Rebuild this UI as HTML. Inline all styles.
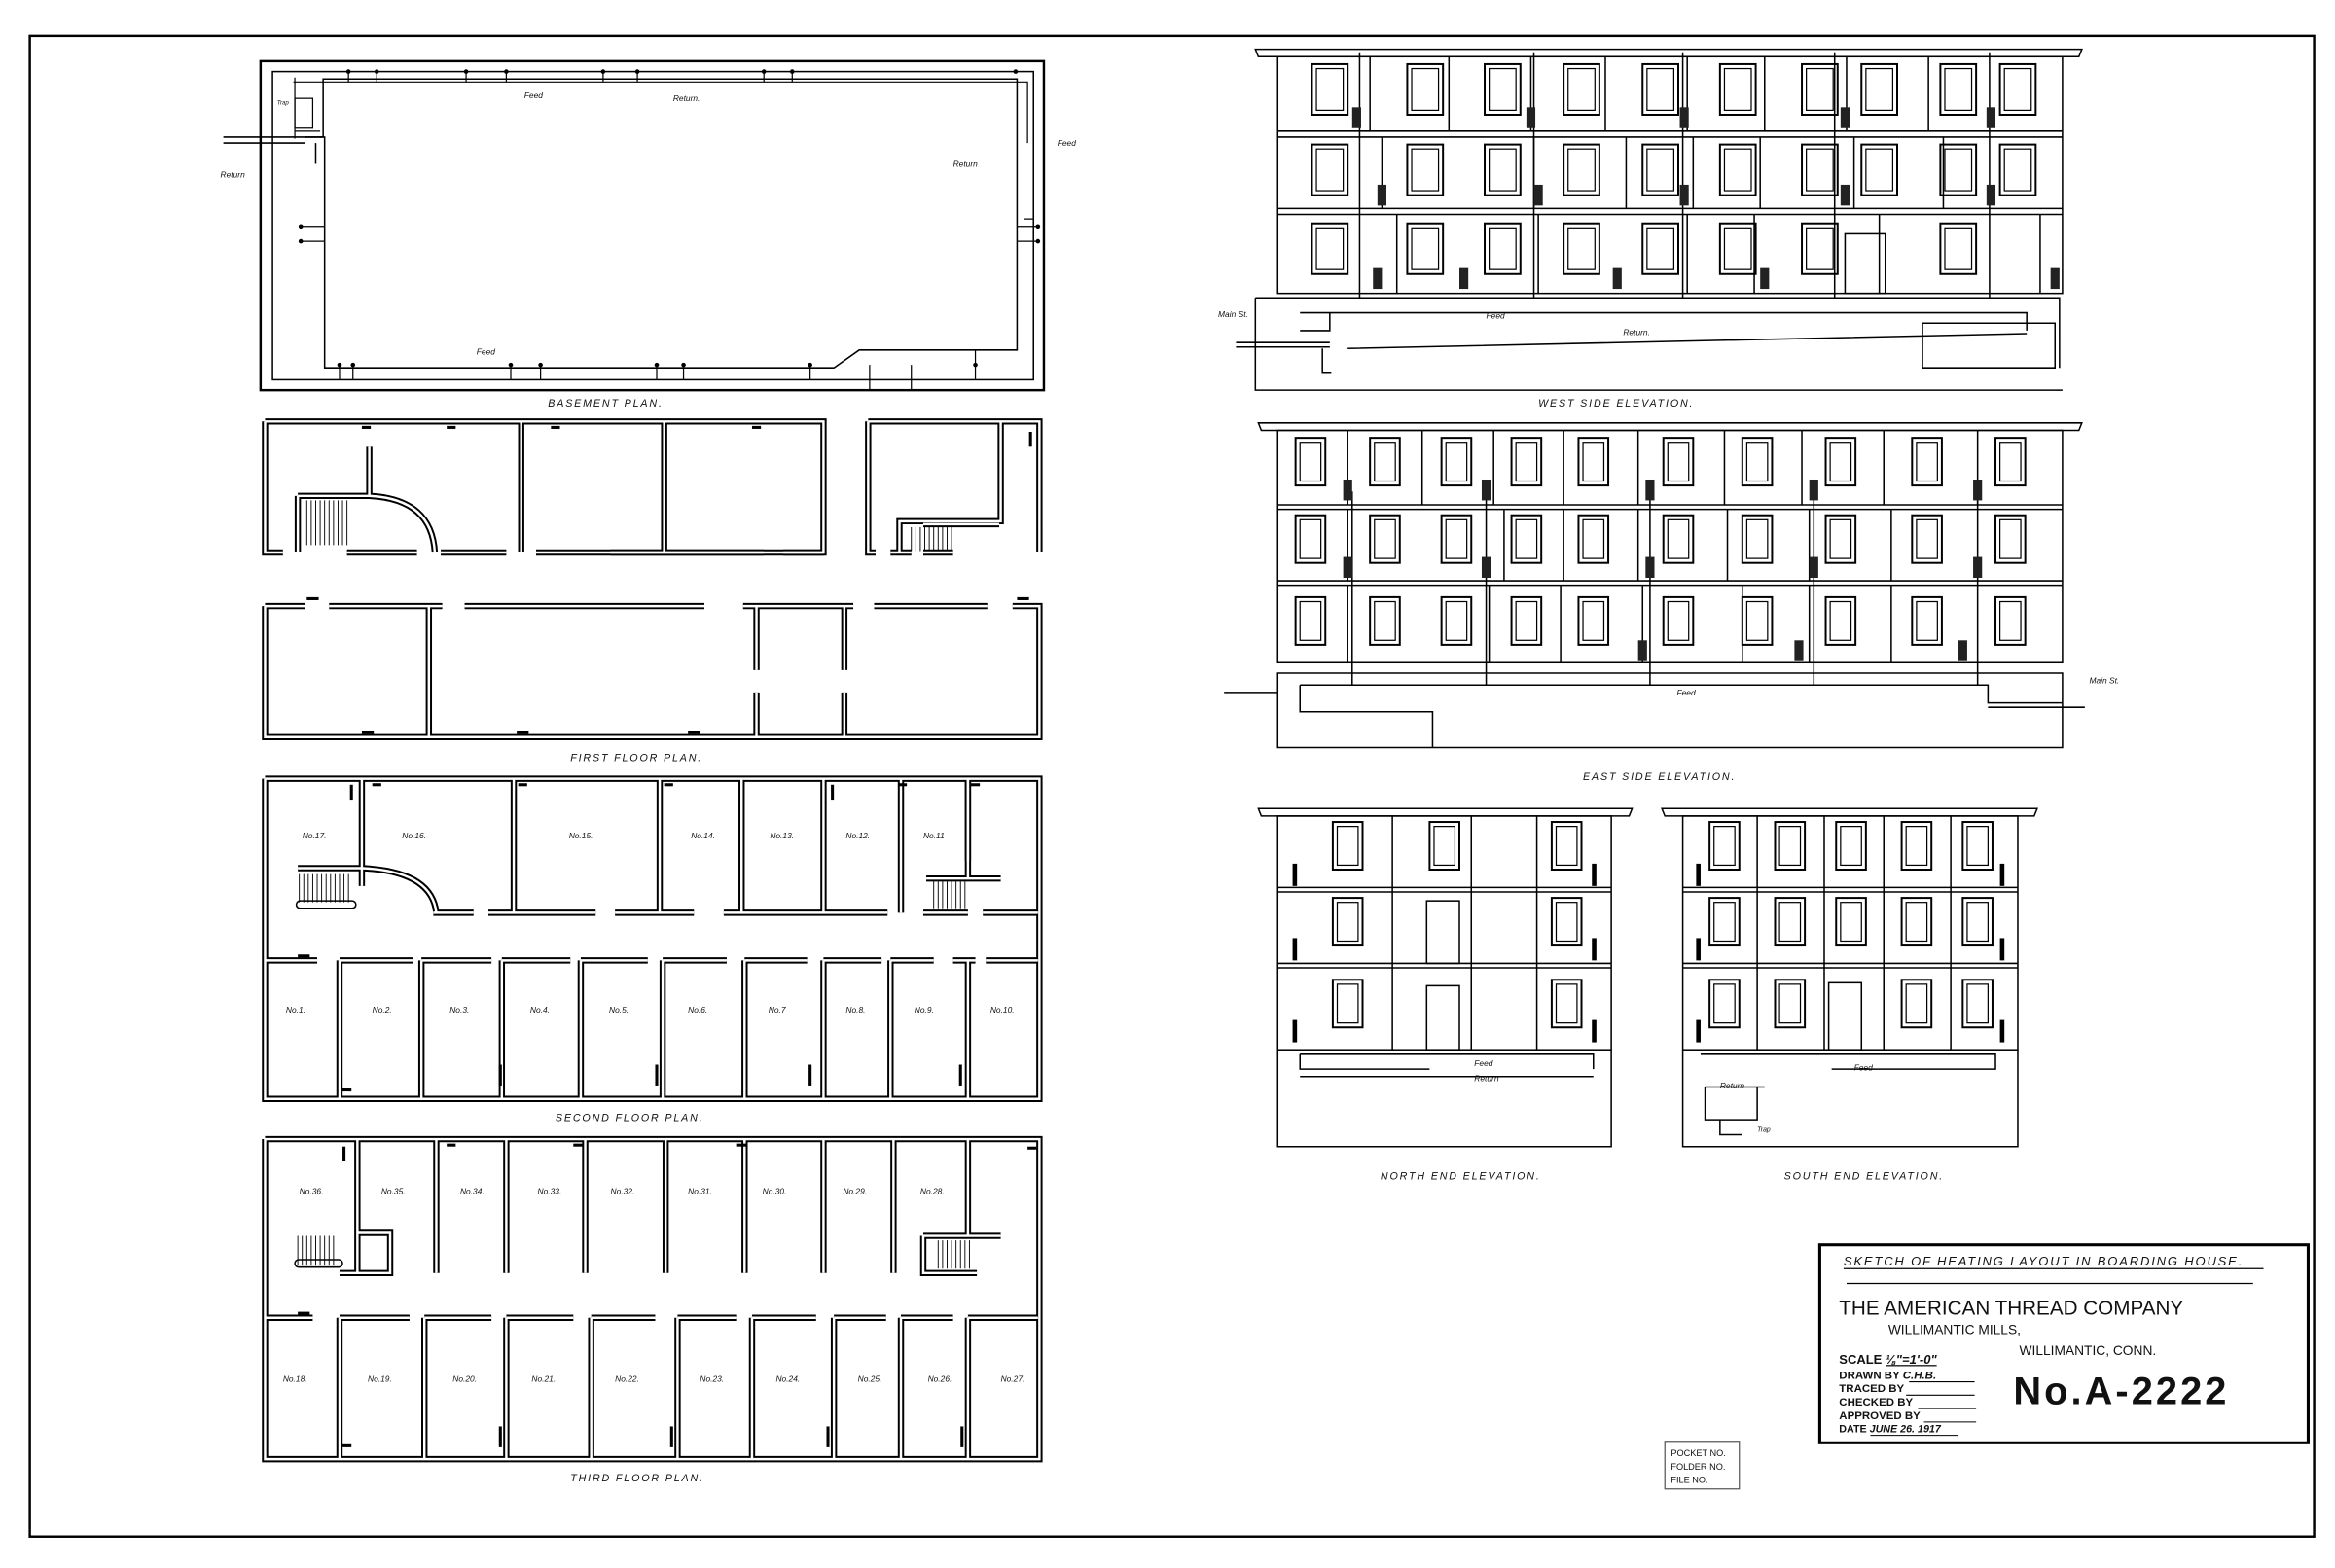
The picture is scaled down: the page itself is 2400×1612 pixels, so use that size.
<!DOCTYPE html>
<html><head><meta charset="utf-8"><style>
html,body{margin:0;padding:0;background:#fff}
svg{display:block}
text{font-family:"Liberation Sans",sans-serif;font-style:italic;fill:#111}
text.n,tspan.n{font-style:normal}
tspan.i{font-style:italic}
.lb{font-size:7px;letter-spacing:1.2px}
.sm{font-size:5.5px}
</style></head><body>
<svg width="2400" height="1612" viewBox="0 0 1568 1053" xmlns="http://www.w3.org/2000/svg">
<defs>
<g id="win"><rect x="0" y="0" width="24" height="34" fill="none" stroke="#000" stroke-width="1.3"/><rect x="3" y="3" width="18" height="28" fill="none" stroke="#000" stroke-width="0.8"/></g>
<g id="winS"><rect x="0" y="0" width="20" height="32" fill="none" stroke="#000" stroke-width="1.3"/><rect x="3" y="3" width="14" height="26" fill="none" stroke="#000" stroke-width="0.8"/></g>
<g id="rad"><rect x="0" y="0" width="6" height="14" fill="#222"/></g>
<g id="walls" fill="none">
 <path d="M178,283 H553 V371 H360 M340,371 H296 M280,371 H233 M178,283 V371 H190"/>
 <path d="M350,283 V371 M446,283 V371 M410,371 H513 M526,371 H553"/>
 <path d="M200,333 H248 M248,300 V333 M248,333 Q290,335 292,371 M200,333 V371"/>
 <path d="M583,283 H698 V371 M583,283 V371 H588 M598,371 H612 M620,371 H640 M672,283 V350 H604 V371 M620,352 H671"/>
 <path d="M178,407 H205 M221,407 H297 M312,407 H473 M499,407 H573 M587,407 H663 M680,407 H698 V495 H178 V407"/>
 <path d="M288,407 V495 M508,407 V450 M567,407 V450 M508,465 V495 M567,465 V495"/>
 <path d="M178,523 H698 V738 H178 V523"/>
 <path d="M243,523 V595 M345,523 V613 M443,523 V613 M498,523 V613 M553,523 V613 M605,523 V613 M650,523 V578"/>
 <path d="M291,613 H318 M328,613 H400 M413,613 H466 M486,613 H596 M620,613 H650 M660,613 H697"/>
 <path d="M178,645 H213 M228,645 H277 M283,645 H330 M337,645 H383 M390,645 H435 M445,645 H488 M500,645 H542 M553,645 H592 M598,645 H627 M640,645 H655 M662,645 H697"/>
 <path d="M228,645 V738 M283,645 V738 M337,645 V738 M390,645 V738 M445,645 V738 M500,645 V738 M553,645 V738 M598,645 V738 M650,645 V738"/>
 <path d="M200,583 H243 M243,583 Q290,585 293,613 M622,590 H672 M650,523 V590"/>
 <path d="M178,765 H698 V980 H178 V765"/>
 <path d="M240,765 V855 M293,765 V855 M340,765 V855 M393,765 V855 M447,765 V855 M500,765 V855 M553,765 V855 M600,765 V855 M650,765 V830"/>
 <path d="M178,885 H210 M228,885 H275 M285,885 H330 M340,885 H385 M397,885 H440 M455,885 H495 M505,885 H548 M560,885 H595 M605,885 H640 M650,885 H697"/>
 <path d="M228,885 V980 M285,885 V980 M340,885 V980 M397,885 V980 M455,885 V980 M505,885 V980 M560,885 V980 M605,885 V980 M650,885 V980"/>
 <path d="M240,828 H262 V855 H228 M620,830 H672 M620,830 V855 H656"/>
</g>
</defs>

<rect x="20" y="24" width="1534" height="1008" fill="none" stroke="#000" stroke-width="1.6"/>

<!-- BASEMENT PLAN -->
<rect x="175" y="41" width="526" height="221" fill="none" stroke="#000" stroke-width="1.6"/>
<rect x="183" y="48" width="511" height="207" fill="none" stroke="#000" stroke-width="1"/>
<path d="M217,92 V53 H683 V235 H577 L560,247 H218 V92 H205" fill="none" stroke="#000" stroke-width="1"/>
<path d="M198,52 V93 M198,88 H215 M197,55 H690 V96 M694,96 V147 H688" fill="none" stroke="#000" stroke-width="0.8"/>
<rect x="198" y="66" width="12" height="20" fill="none" stroke="#000" stroke-width="0.8"/>
<path d="M150,92 H217 M150,96 H205 M212,96 V110" fill="none" stroke="#000" stroke-width="1"/>
<g fill="#000">
<circle cx="234" cy="48" r="1.5"/><circle cx="253" cy="48" r="1.5"/><circle cx="313" cy="48" r="1.5"/><circle cx="340" cy="48" r="1.5"/><circle cx="405" cy="48" r="1.5"/><circle cx="428" cy="48" r="1.5"/><circle cx="513" cy="48" r="1.5"/><circle cx="532" cy="48" r="1.5"/><circle cx="682" cy="48" r="1.5"/>
<circle cx="228" cy="245" r="1.5"/><circle cx="237" cy="245" r="1.5"/><circle cx="343" cy="245" r="1.5"/><circle cx="363" cy="245" r="1.5"/><circle cx="441" cy="245" r="1.5"/><circle cx="459" cy="245" r="1.5"/><circle cx="544" cy="245" r="1.5"/><circle cx="655" cy="245" r="1.5"/>
<circle cx="202" cy="152" r="1.5"/><circle cx="202" cy="162" r="1.5"/><circle cx="697" cy="152" r="1.5"/><circle cx="697" cy="162" r="1.5"/>
</g>
<path d="M234,48 V55 M253,48 V55 M313,48 V55 M340,48 V55 M405,48 V55 M428,48 V55 M513,48 V55 M532,48 V55 M228,245 V255 M237,245 V255 M343,245 V255 M363,245 V255 M441,245 V255 M459,245 V255 M544,245 V255 M655,235 V255 M584,245 V262 M612,245 V262 M202,152 H218 M202,162 H218 M683,152 H697 M683,162 H697" stroke="#000" stroke-width="0.8"/>
<text x="352" y="66" class="sm">Feed</text><text x="452" y="68" class="sm">Return.</text>
<text x="640" y="112" class="sm">Return</text><text x="710" y="98" class="sm">Feed</text>
<text x="320" y="238" class="sm">Feed</text><text x="186" y="70" font-size="4">Trap</text><text x="148" y="119" class="sm">Return</text>
<text x="368" y="273" class="lb">BASEMENT PLAN.</text>

<use href="#walls" stroke="#000" stroke-width="4.2"/>
<use href="#walls" stroke="#fff" stroke-width="1.6"/>
<g stroke="#000" stroke-width="0.6">
<path d="M206,336 V366 M209,336 V366 M212,336 V366 M215,336 V366 M218,336 V366 M221,336 V366 M224,336 V366 M227,336 V366 M230,336 V366 M233,336 V366 M612,354 V370 M615,354 V370 M618,354 V370 M621,354 V370 M624,354 V370 M627,354 V370 M630,354 V370 M633,354 V370 M636,354 V370 M639,354 V370"/>
<path d="M201,587 V606 M204,587 V606 M207,587 V606 M210,587 V606 M213,587 V606 M216,587 V606 M219,587 V606 M222,587 V606 M225,587 V606 M228,587 V606 M231,587 V606 M234,587 V606 M627,592 V610 M630,592 V610 M633,592 V610 M636,592 V610 M639,592 V610 M642,592 V610 M645,592 V610 M648,592 V610"/>
<path d="M200,830 V850 M203,830 V850 M206,830 V850 M209,830 V850 M212,830 V850 M215,830 V850 M218,830 V850 M221,830 V850 M224,830 V850 M630,833 V852 M633,833 V852 M636,833 V852 M639,833 V852 M642,833 V852 M645,833 V852 M648,833 V852 M651,833 V852"/>
</g>
<rect x="199" y="605" width="40" height="5" rx="2.5" fill="none" stroke="#000" stroke-width="1"/>
<rect x="198" y="846" width="32" height="5" rx="2.5" fill="none" stroke="#000" stroke-width="1"/>
<g fill="#000">
<rect x="243" y="286" width="6" height="2"/><rect x="300" y="286" width="6" height="2"/><rect x="370" y="286" width="6" height="2"/><rect x="505" y="286" width="6" height="2"/><rect x="691" y="290" width="2" height="10"/><rect x="206" y="401" width="8" height="2"/><rect x="243" y="491" width="8" height="2"/><rect x="347" y="491" width="8" height="2"/><rect x="462" y="491" width="8" height="2"/><rect x="683" y="401" width="8" height="2"/>
<rect x="250" y="526" width="6" height="2"/><rect x="348" y="526" width="6" height="2"/><rect x="446" y="526" width="6" height="2"/><rect x="235" y="527" width="2" height="10"/><rect x="558" y="527" width="2" height="10"/><rect x="603" y="526" width="6" height="2"/><rect x="652" y="526" width="6" height="2"/><rect x="200" y="641" width="8" height="2"/><rect x="230" y="731" width="6" height="2"/><rect x="335" y="715" width="2" height="14"/><rect x="440" y="715" width="2" height="14"/><rect x="543" y="715" width="2" height="14"/><rect x="644" y="715" width="2" height="14"/>
<rect x="230" y="770" width="2" height="10"/><rect x="300" y="768" width="6" height="2"/><rect x="385" y="768" width="6" height="2"/><rect x="495" y="768" width="6" height="2"/><rect x="200" y="881" width="8" height="2"/><rect x="230" y="970" width="6" height="2"/><rect x="335" y="958" width="2" height="14"/><rect x="450" y="958" width="2" height="14"/><rect x="555" y="958" width="2" height="14"/><rect x="645" y="958" width="2" height="14"/><rect x="690" y="770" width="6" height="2"/>
</g>
<text x="383" y="511" class="lb">FIRST FLOOR PLAN.</text>
<g class="sm">
<text x="203" y="563">No.17.</text><text x="270" y="563">No.16.</text><text x="382" y="563">No.15.</text><text x="464" y="563">No.14.</text><text x="517" y="563">No.13.</text><text x="568" y="563">No.12.</text><text x="620" y="563">No.11</text>
<text x="192" y="680">No.1.</text><text x="250" y="680">No.2.</text><text x="302" y="680">No.3.</text><text x="356" y="680">No.4.</text><text x="409" y="680">No.5.</text><text x="462" y="680">No.6.</text><text x="516" y="680">No.7</text><text x="568" y="680">No.8.</text><text x="614" y="680">No.9.</text><text x="665" y="680">No.10.</text>
<text x="201" y="802">No.36.</text><text x="256" y="802">No.35.</text><text x="309" y="802">No.34.</text><text x="361" y="802">No.33.</text><text x="410" y="802">No.32.</text><text x="462" y="802">No.31.</text><text x="512" y="802">No.30.</text><text x="566" y="802">No.29.</text><text x="618" y="802">No.28.</text>
<text x="190" y="928">No.18.</text><text x="247" y="928">No.19.</text><text x="304" y="928">No.20.</text><text x="357" y="928">No.21.</text><text x="413" y="928">No.22.</text><text x="470" y="928">No.23.</text><text x="521" y="928">No.24.</text><text x="576" y="928">No.25.</text><text x="623" y="928">No.26.</text><text x="672" y="928">No.27.</text>
</g>
<text x="373" y="753" class="lb">SECOND FLOOR PLAN.</text>
<text x="383" y="995" class="lb">THIRD FLOOR PLAN.</text>

<!-- WEST SIDE ELEVATION -->
<g fill="none" stroke="#000" stroke-width="1">
<path d="M843,33 H1398 L1396,38 H845 Z"/>
<rect x="858" y="38" width="527" height="159"/>
<path d="M858,88 H1385 M858,92 H1385 M858,140 H1385 M858,144 H1385"/>
<path d="M920,38 V88 M973,38 V88 M1028,38 V88 M1078,38 V88 M1133,38 V88 M1185,38 V88 M1240,38 V88 M1295,38 V88 M928,92 V140 M1030,92 V140 M1092,92 V140 M1137,92 V140 M1182,92 V140 M1245,92 V140 M1305,92 V140 M938,144 V197 M1033,144 V197 M1133,144 V197 M1178,144 V197 M1262,144 V197 M1370,144 V197"/>
<path d="M843,200 H1383 V247 M843,200 V262 L1385,262 M873,210 H1361 V222 M873,222 H893 V210 M905,234 L1361,224 M830,230 H893 M830,233 H893 M888,234 V250 H894 M1291,217 H1380 V247 H1291 Z"/>
<path d="M913,35 V200 M1030,35 V200 M1130,35 V200 M1232,35 V200 M1336,35 V200"/>
</g>
<g>
<use href="#win" x="881" y="43"/><use href="#win" x="945" y="43"/><use href="#win" x="997" y="43"/><use href="#win" x="1050" y="43"/><use href="#win" x="1103" y="43"/><use href="#win" x="1155" y="43"/><use href="#win" x="1210" y="43"/><use href="#win" x="1250" y="43"/><use href="#win" x="1303" y="43"/><use href="#win" x="1343" y="43"/>
<use href="#win" x="881" y="97"/><use href="#win" x="945" y="97"/><use href="#win" x="997" y="97"/><use href="#win" x="1050" y="97"/><use href="#win" x="1103" y="97"/><use href="#win" x="1155" y="97"/><use href="#win" x="1210" y="97"/><use href="#win" x="1250" y="97"/><use href="#win" x="1303" y="97"/><use href="#win" x="1343" y="97"/>
<use href="#win" x="881" y="150"/><use href="#win" x="945" y="150"/><use href="#win" x="997" y="150"/><use href="#win" x="1050" y="150"/><use href="#win" x="1103" y="150"/><use href="#win" x="1155" y="150"/><use href="#win" x="1210" y="150"/><use href="#win" x="1303" y="150"/>
<rect x="1239" y="157" width="27" height="40" fill="none" stroke="#000"/>
<use href="#rad" x="908" y="72"/><use href="#rad" x="1025" y="72"/><use href="#rad" x="1128" y="72"/><use href="#rad" x="1236" y="72"/><use href="#rad" x="1334" y="72"/>
<use href="#rad" x="925" y="124"/><use href="#rad" x="1030" y="124"/><use href="#rad" x="1128" y="124"/><use href="#rad" x="1236" y="124"/><use href="#rad" x="1334" y="124"/>
<use href="#rad" x="922" y="180"/><use href="#rad" x="980" y="180"/><use href="#rad" x="1083" y="180"/><use href="#rad" x="1182" y="180"/><use href="#rad" x="1377" y="180"/>
</g>
<text x="998" y="214" class="sm">Feed</text><text x="1090" y="225" class="sm">Return.</text><text x="818" y="213" class="sm">Main St.</text>
<text x="1033" y="273" class="lb">WEST SIDE ELEVATION.</text>

<!-- EAST SIDE ELEVATION -->
<g fill="none" stroke="#000" stroke-width="1">
<path d="M845,284 H1398 L1396,289 H847 Z"/>
<rect x="858" y="289" width="527" height="156"/>
<path d="M858,339 H1385 M858,342 H1385 M858,390 H1385 M858,393 H1385"/>
<path d="M905,289 V339 M955,289 V339 M1003,289 V339 M1050,289 V339 M1100,289 V339 M1158,289 V339 M1210,289 V339 M1265,289 V339 M1328,289 V339 M905,342 V390 M1010,342 V390 M1050,342 V390 M1100,342 V390 M1160,342 V390 M1215,342 V390 M1270,342 V390 M905,393 V445 M1000,393 V445 M1048,393 V445 M1103,393 V445 M1170,393 V445 M1215,393 V445 M1270,393 V445"/>
<path d="M858,452 H1385 V502 H858 Z M873,460 H1335 V472 H1385 M873,460 V478 H962 V502 M822,465 H858 M1335,475 H1400"/>
<path d="M908,330 V460 M998,330 V460 M1108,330 V460 M1218,330 V460 M1328,330 V460"/>
</g>
<g>
<use href="#winS" x="870" y="294"/><use href="#winS" x="920" y="294"/><use href="#winS" x="968" y="294"/><use href="#winS" x="1015" y="294"/><use href="#winS" x="1060" y="294"/><use href="#winS" x="1117" y="294"/><use href="#winS" x="1170" y="294"/><use href="#winS" x="1226" y="294"/><use href="#winS" x="1284" y="294"/><use href="#winS" x="1340" y="294"/>
<use href="#winS" x="870" y="346"/><use href="#winS" x="920" y="346"/><use href="#winS" x="968" y="346"/><use href="#winS" x="1015" y="346"/><use href="#winS" x="1060" y="346"/><use href="#winS" x="1117" y="346"/><use href="#winS" x="1170" y="346"/><use href="#winS" x="1226" y="346"/><use href="#winS" x="1284" y="346"/><use href="#winS" x="1340" y="346"/>
<use href="#winS" x="870" y="401"/><use href="#winS" x="920" y="401"/><use href="#winS" x="968" y="401"/><use href="#winS" x="1015" y="401"/><use href="#winS" x="1060" y="401"/><use href="#winS" x="1117" y="401"/><use href="#winS" x="1170" y="401"/><use href="#winS" x="1226" y="401"/><use href="#winS" x="1284" y="401"/><use href="#winS" x="1340" y="401"/>
<use href="#rad" x="902" y="322"/><use href="#rad" x="995" y="322"/><use href="#rad" x="1105" y="322"/><use href="#rad" x="1215" y="322"/><use href="#rad" x="1325" y="322"/>
<use href="#rad" x="902" y="374"/><use href="#rad" x="995" y="374"/><use href="#rad" x="1105" y="374"/><use href="#rad" x="1215" y="374"/><use href="#rad" x="1325" y="374"/>
<use href="#rad" x="1100" y="430"/><use href="#rad" x="1205" y="430"/><use href="#rad" x="1315" y="430"/>
</g>
<text x="1126" y="467" class="sm">Feed.</text><text x="1403" y="459" class="sm">Main St.</text>
<text x="1063" y="524" class="lb">EAST SIDE ELEVATION.</text>

<!-- NORTH END -->
<g fill="none" stroke="#000" stroke-width="1">
<path d="M845,543 H1096 L1094,548 H847 Z"/>
<rect x="858" y="548" width="224" height="157"/>
<path d="M858,596 H1082 M858,599 H1082 M858,647 H1082 M858,650 H1082 M935,548 V705 M988,548 V705 M1032,548 V705"/>
<rect x="958" y="605" width="22" height="42"/><rect x="958" y="662" width="22" height="43"/>
<path d="M873,708 H1070 V718 M873,708 V718 H960 M873,723 H1070 M858,705 V770 H1082 V705"/>
</g>
<use href="#winS" x="895" y="552"/><use href="#winS" x="960" y="552"/><use href="#winS" x="1042" y="552"/>
<use href="#winS" x="895" y="603"/><use href="#winS" x="1042" y="603"/>
<use href="#winS" x="895" y="658"/><use href="#winS" x="1042" y="658"/>
<g fill="#000"><rect x="868" y="580" width="3" height="15"/><rect x="868" y="630" width="3" height="15"/><rect x="868" y="685" width="3" height="15"/><rect x="1069" y="580" width="3" height="15"/><rect x="1069" y="630" width="3" height="15"/><rect x="1069" y="685" width="3" height="15"/></g>
<text x="990" y="716" class="sm">Feed</text><text x="990" y="726" class="sm">Return</text>
<text x="927" y="792" class="lb">NORTH END ELEVATION.</text>

<!-- SOUTH END -->
<g fill="none" stroke="#000" stroke-width="1">
<path d="M1116,543 H1368 L1366,548 H1118 Z"/>
<rect x="1130" y="548" width="225" height="157"/>
<path d="M1130,596 H1355 M1130,599 H1355 M1130,647 H1355 M1130,650 H1355 M1180,548 V705 M1225,548 V705 M1265,548 V705 M1310,548 V705"/>
<rect x="1228" y="660" width="22" height="45"/>
<path d="M1142,708 H1340 V718 H1230 M1145,730 V752 H1180 V730 M1155,752 V762 H1170 M1130,705 V770 H1355 V705 M1145,730 H1185"/>
</g>
<use href="#winS" x="1148" y="552"/><use href="#winS" x="1192" y="552"/><use href="#winS" x="1233" y="552"/><use href="#winS" x="1277" y="552"/><use href="#winS" x="1318" y="552"/>
<use href="#winS" x="1148" y="603"/><use href="#winS" x="1192" y="603"/><use href="#winS" x="1233" y="603"/><use href="#winS" x="1277" y="603"/><use href="#winS" x="1318" y="603"/>
<use href="#winS" x="1148" y="658"/><use href="#winS" x="1192" y="658"/><use href="#winS" x="1277" y="658"/><use href="#winS" x="1318" y="658"/>
<g fill="#000"><rect x="1139" y="580" width="3" height="15"/><rect x="1139" y="630" width="3" height="15"/><rect x="1139" y="685" width="3" height="15"/><rect x="1343" y="580" width="3" height="15"/><rect x="1343" y="630" width="3" height="15"/><rect x="1343" y="685" width="3" height="15"/></g>
<text x="1245" y="719" class="sm">Feed</text><text x="1155" y="731" class="sm">Return</text><text x="1180" y="760" font-size="4.5">Trap</text>
<text x="1198" y="792" class="lb">SOUTH END ELEVATION.</text>

<!-- TITLE BLOCK -->
<rect x="1222" y="836" width="328" height="133" fill="none" stroke="#000" stroke-width="2"/>
<text x="1238" y="850" font-size="8.5" letter-spacing="1.2">SKETCH OF HEATING LAYOUT IN BOARDING HOUSE.</text>
<line x1="1238" y1="852" x2="1520" y2="852" stroke="#000" stroke-width="0.8"/>
<line x1="1240" y1="862" x2="1513" y2="862" stroke="#000" stroke-width="0.8"/>
<text x="1235" y="883" font-size="13.5" class="n">THE AMERICAN THREAD COMPANY</text>
<text x="1268" y="896" font-size="9" class="n">WILLIMANTIC MILLS,</text>
<text x="1356" y="910" font-size="9" class="n">WILLIMANTIC, CONN.</text>
<g font-size="7.5" font-weight="bold">
<text x="1235" y="916" font-size="8.5" class="n">SCALE <tspan class="i" text-decoration="underline">⅛"=1'-0"</tspan></text>
<text x="1235" y="926" class="n">DRAWN BY <tspan class="i">C.H.B.</tspan></text>
<text x="1235" y="935" class="n">TRACED BY</text>
<text x="1235" y="944" class="n">CHECKED BY</text>
<text x="1235" y="953" class="n">APPROVED BY</text>
<text x="1235" y="962" font-size="7" class="n">DATE <tspan class="i">JUNE 26. 1917</tspan></text>
</g>
<path d="M1282,928 H1326 M1280,937 H1326 M1288,946 H1327 M1292,955 H1327 M1256,964 H1315" stroke="#000" stroke-width="0.7"/>
<text x="1352" y="943" font-size="26" class="n" font-weight="bold" letter-spacing="2">No.A-2222</text>

<rect x="1118" y="968" width="50" height="32" fill="none" stroke="#555" stroke-width="0.8"/>
<text x="1122" y="978" font-size="6" class="n" fill="#444">POCKET NO.</text>
<text x="1122" y="987" font-size="6" class="n" fill="#444">FOLDER NO.</text>
<text x="1122" y="996" font-size="6" class="n" fill="#444">FILE NO.</text>
</svg>
</body></html>
